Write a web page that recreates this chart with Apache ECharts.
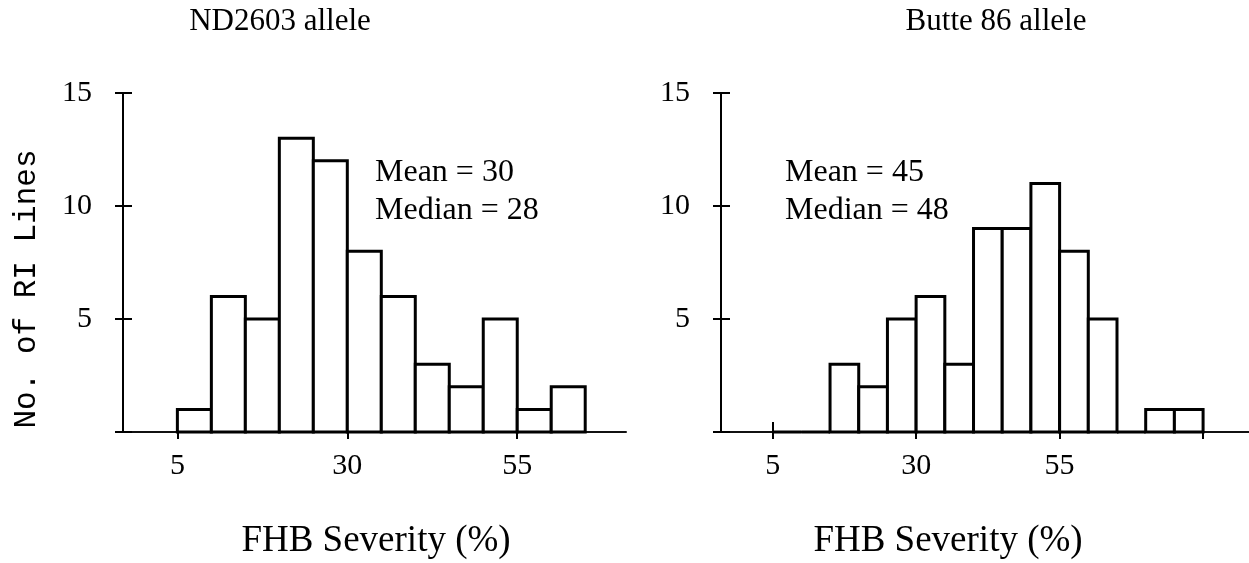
<!DOCTYPE html>
<html>
<head>
<meta charset="utf-8">
<script src="https://cdn.jsdelivr.net/npm/echarts@6/dist/echarts.min.js"></script>
<style>
  html, body { margin: 0; padding: 0; background: #fff; }
  #chart { width: 1249px; height: 563px; }
</style>
</head>
<body>
<div id="chart"></div>
<script>
// bin starts (FHB severity %, 5-unit bins) and counts of RI lines
var binWidth = 5;
var leftBins = [5, 10, 15, 20, 25, 30, 35, 40, 45, 50, 55, 60];
var leftCounts = [1, 6, 5, 13, 12, 8, 6, 3, 2, 5, 1, 2];
var rightBins = [5, 10, 15, 20, 25, 30, 35, 40, 45, 50, 55, 60, 65, 70, 75];
var rightCounts = [0, 0, 3, 2, 5, 6, 3, 9, 9, 11, 8, 5, 0, 1, 1];

var leftXTicks = [5, 30, 55];
var rightXTicks = [5, 30, 55, 80];
var xLabels = [5, 30, 55];
var yLabels = [5, 10, 15];

var serif = 'Liberation Serif, Times New Roman, serif';

var chart = echarts.init(document.getElementById('chart'));

function toBars(bins, counts) {
  return bins.map(function (s, i) { return [s, s + binWidth, counts[i]]; });
}

function renderBar(params, api) {
  var p0 = api.coord([api.value(0), api.value(2)]);
  var p1 = api.coord([api.value(1), 0]);
  return {
    type: 'rect',
    shape: { x: p0[0], y: p0[1], width: p1[0] - p0[0], height: p1[1] - p0[1] },
    style: { fill: '#fff', stroke: '#000', lineWidth: 3 }
  };
}

// main axis (line, outer ticks, labels) + overlay axis (inner ticks only)
function xAxes(grid, min, max, ticks) {
  return [{
    type: 'value', gridIndex: grid, min: min, max: max, position: 'bottom',
    splitLine: { show: false },
    axisLine: { show: true, onZero: false, lineStyle: { color: '#111', width: 2 } },
    axisTick: { show: true, length: 7, customValues: ticks, lineStyle: { color: '#000', width: 2 } },
    axisLabel: { customValues: xLabels, margin: 19, color: '#000', fontFamily: serif, fontSize: 30 }
  }, {
    type: 'value', gridIndex: grid, min: min, max: max, position: 'bottom', offset: 0,
    splitLine: { show: false },
    axisLine: { show: false, onZero: false },
    axisTick: { show: true, inside: true, length: 10, customValues: ticks, lineStyle: { color: '#000', width: 2 } },
    axisLabel: { show: false }
  }];
}

function yAxes(grid) {
  return [{
    type: 'value', gridIndex: grid, min: 0, max: 15, interval: 5, position: 'left',
    splitLine: { show: false },
    axisLine: { show: true, onZero: false, lineStyle: { color: '#000', width: 2 } },
    axisTick: { show: true, length: 8, lineStyle: { color: '#000', width: 2 } },
    axisLabel: { customValues: yLabels, margin: 31, color: '#000', fontFamily: serif, fontSize: 30 }
  }, {
    type: 'value', gridIndex: grid, min: 0, max: 15, interval: 5, position: 'left', offset: 0,
    splitLine: { show: false },
    axisLine: { show: false, onZero: false },
    axisTick: { show: true, inside: true, length: 9, lineStyle: { color: '#000', width: 2 } },
    axisLabel: { show: false }
  }];
}

function txt(x, y, text, size, family, rot, align) {
  return {
    type: 'text', x: x, y: y, rotation: rot || 0,
    style: {
      text: text, fill: '#000', font: size + 'px ' + family,
      align: align || 'center', verticalAlign: 'middle'
    }
  };
}

chart.setOption({
  animation: false,
  backgroundColor: '#fff',
  grid: [
    { left: 123, top: 93, width: 503, height: 339 },
    { left: 721, top: 93, width: 528, height: 339 }
  ],
  xAxis: xAxes(0, -3, 71, leftXTicks).concat(xAxes(1, -4, 88, rightXTicks)),
  yAxis: yAxes(0).concat(yAxes(1)),
  series: [{
    type: 'custom', xAxisIndex: 0, yAxisIndex: 0,
    renderItem: renderBar, data: toBars(leftBins, leftCounts)
  }, {
    type: 'custom', xAxisIndex: 2, yAxisIndex: 2,
    renderItem: renderBar, data: toBars(rightBins, rightCounts)
  }],
  graphic: [
    txt(280, 22, 'ND2603 allele', 31, serif),
    txt(996, 22, 'Butte 86 allele', 31, serif),
    txt(376, 541, 'FHB Severity (%)', 37, serif),
    txt(948, 541, 'FHB Severity (%)', 37, serif),
    txt(27, 289, 'No. of RI Lines', 31, 'Liberation Mono, Courier New, monospace', Math.PI / 2),
    txt(375, 173, 'Mean = 30', 32, serif, 0, 'left'),
    txt(375, 211, 'Median = 28', 32, serif, 0, 'left'),
    txt(785, 173, 'Mean = 45', 32, serif, 0, 'left'),
    txt(785, 211, 'Median = 48', 32, serif, 0, 'left')
  ]
});
</script>
</body>
</html>
